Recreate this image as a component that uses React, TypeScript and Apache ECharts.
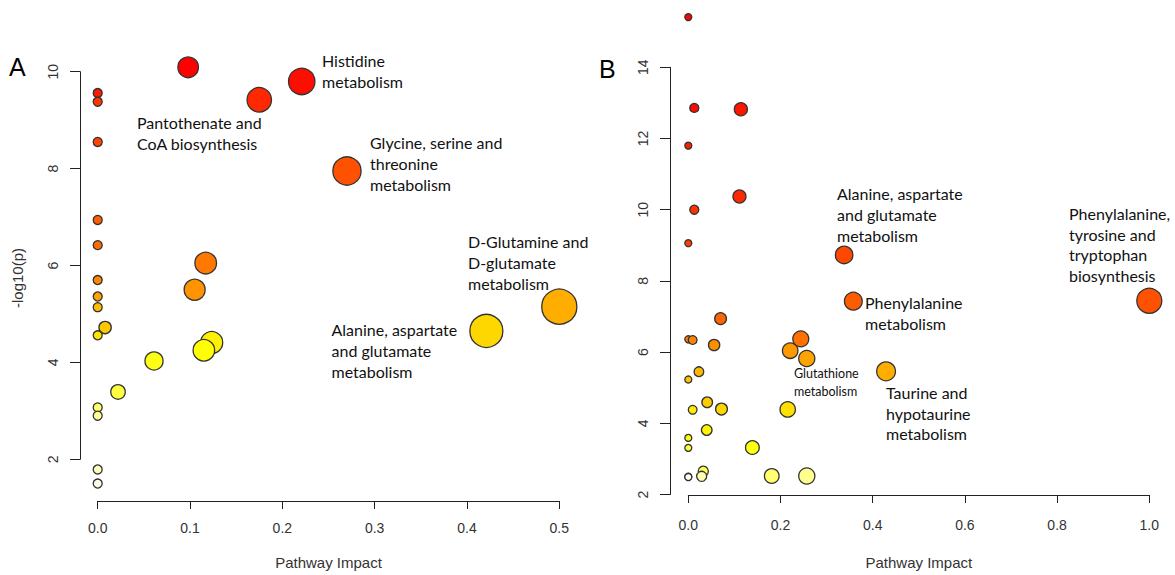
import React, { useEffect, useRef } from "react";
import * as echarts from "echarts";

// Panel A
const aImpact = [0.098, 0.221, 0, 0.175, 0, 0, 0.270, 0, 0, 0.117, 0, 0.105, 0, 0.5, 0, 0.008, 0.421, 0, 0.1235, 0.115, 0.061, 0.022, 0, 0, 0, 0];
const aLogP = [10.09, 9.80, 9.56, 9.42, 9.38, 8.55, 7.95, 6.94, 6.42, 6.05, 5.70, 5.50, 5.36, 5.15, 5.14, 4.72, 4.65, 4.56, 4.41, 4.25, 4.03, 3.39, 3.07, 2.90, 1.79, 1.50];
const aXTicks = [0, 0.1, 0.2, 0.3, 0.4, 0.5];
const aYTicks = [2, 4, 6, 8, 10];

// Panel B
const bImpact = [0, 0.013, 0.114, 0, 0.111, 0.013, 0, 0.338, 1.0, 0.358, 0.070, 0.244, 0, 0.0095, 0.056, 0.221, 0.257, 0.429, 0.023, 0, 0.041, 0.072, 0.2156, 0.0095, 0.040, 0, 0.139, 0, 0.0325, 0.181, 0.257, 0.029, 0, 0];
const bLogP = [15.41, 12.86, 12.82, 11.80, 10.37, 10.00, 9.06, 8.73, 7.44, 7.43, 6.94, 6.37, 6.36, 6.34, 6.20, 6.04, 5.82, 5.46, 5.45, 5.23, 4.59, 4.40, 4.39, 4.38, 3.81, 3.59, 3.32, 3.31, 2.65, 2.52, 2.52, 2.51, 2.50, 2.49];
const bXTicks = [0, 0.2, 0.4, 0.6, 0.8, 1.0];
const bYTicks = [2, 4, 6, 8, 10, 12, 14];

const aLabels = [
  { text: "Histidine\nmetabolism", x: 322, y: 49.5 },
  { text: "Pantothenate and\nCoA biosynthesis", x: 137, y: 112 },
  { text: "Glycine, serine and\nthreonine\nmetabolism", x: 370, y: 132 },
  { text: "D-Glutamine and\nD-glutamate\nmetabolism", x: 468, y: 231 },
  { text: "Alanine, aspartate\nand glutamate\nmetabolism", x: 331.5, y: 319 },
];
const bLabels = [
  { text: "Alanine, aspartate\nand glutamate\nmetabolism", x: 837, y: 183.5 },
  { text: "Phenylalanine\nmetabolism", x: 865, y: 292 },
  { text: "Taurine and\nhypotaurine\nmetabolism", x: 886, y: 382 },
  { text: "Phenylalanine,\ntyrosine and\ntryptophan\nbiosynthesis", x: 1069, y: 203 },
];

// R's heat.colors(n)
function heatColors(n: number): string[] {
  const k = Math.floor(n / 4);
  const j = n - k;
  const hex = (v: number) => Math.round(v * 255).toString(16).padStart(2, "0");
  const out: string[] = [];
  for (let i = 0; i < j; i++) {
    const h = j > 1 ? (i / (j - 1)) * (1 / 6) : 0;
    out.push("#ff" + hex(h * 6) + "00");
  }
  for (let i = 0; i < k; i++) {
    const s = k > 1 ? 1 - 1 / (2 * k) - (i * (1 - 1 / k)) / (k - 1) : 0.5;
    out.push("#ffff" + hex(1 - s));
  }
  return out;
}

function colorsByRank(vals: number[]): string[] {
  const cols = heatColors(vals.length);
  const idx = vals.map((_, i) => i).sort((p, q) => vals[q] - vals[p] || p - q);
  const res: string[] = new Array(vals.length);
  idx.forEach((orig, rank) => (res[orig] = cols[rank]));
  return res;
}

const axisFont = "Liberation Sans, Arial, sans-serif";
const labelFont = "Lato, 'Open Sans', sans-serif";

export default function App() {
  const ref = useRef<HTMLDivElement>(null);
  useEffect(() => {
    if (!ref.current) return;
    const chart = echarts.init(ref.current, undefined, { renderer: "svg" });
    const aCols = colorsByRank(aLogP);
    const bCols = colorsByRank(bLogP);
    const aData = aImpact.map((x, i) => ({ value: [x, aLogP[i]], itemStyle: { color: aCols[i] } }));
    const bData = bImpact.map((x, i) => ({ value: [x, bLogP[i]], itemStyle: { color: bCols[i] } }));

    const lineStyle = { color: "#222", width: 1 };
    const xAxisCommon = (extra: any, margin: number) => ({
      type: "value",
      splitLine: { show: false },
      axisLine: { show: true, onZero: false, lineStyle },
      axisTick: { show: true, length: 8, lineStyle },
      axisLabel: { color: "#333", fontSize: 14, fontFamily: axisFont, margin, formatter: (v: number) => v.toFixed(1) },
      nameLocation: "middle",
      nameTextStyle: { color: "#333", fontSize: 15, fontFamily: axisFont },
      ...extra,
    });
    const yAxisCommon = (extra: any) => ({
      type: "value",
      splitLine: { show: false },
      axisLine: { show: true, onZero: false, lineStyle },
      axisTick: { show: true, length: 10, lineStyle },
      axisLabel: { color: "#333", fontSize: 14, fontFamily: axisFont, rotate: 90, margin: 20, formatter: (v: number) => String(v) },
      ...extra,
    });

    const textStyle = (t: { text: string; x: number; y: number }, size = 16, lh = 21) => ({
      type: "text",
      x: t.x,
      y: t.y,
      style: {
        text: t.text,
        fill: "#111",
        fontSize: size,
        fontFamily: labelFont,
        lineHeight: lh,
        align: "left",
        verticalAlign: "top",
      },
    });

    chart.setOption({
      animation: false,
      backgroundColor: "#fff",
      grid: [
        { left: 97.7, top: 71.7, width: 461.6, height: 392.6, containLabel: false },
        { left: 688.3, top: 67.3, width: 461, height: 428.7, containLabel: false },
      ],
      xAxis: [
        xAxisCommon({ gridIndex: 0, position: "bottom", min: aXTicks[0], max: aXTicks[aXTicks.length - 1], interval: 0.1, offset: 41.7, name: "Pathway Impact", nameGap: 54 }, 20),
        xAxisCommon({ gridIndex: 1, position: "bottom", min: bXTicks[0], max: bXTicks[bXTicks.length - 1], interval: 0.2, offset: 0.5, name: "Pathway Impact", nameGap: 60 }, 23),
      ],
      yAxis: [
        yAxisCommon({ gridIndex: 0, position: "left", min: aYTicks[0], max: aYTicks[aYTicks.length - 1], interval: 2, offset: 17.7 }),
        yAxisCommon({ gridIndex: 1, position: "left", min: bYTicks[0], max: bYTicks[bYTicks.length - 1], interval: 2, offset: 18.3 }),
      ],
      series: [
        {
          type: "scatter",
          xAxisIndex: 0,
          yAxisIndex: 0,
          clip: false,
          symbol: "circle",
          symbolSize: (v: number[]) => 9 + 37 * Math.sqrt(v[0]),
          itemStyle: { borderColor: "#333", borderWidth: 1.3, opacity: 1 },
          data: aData,
        },
        {
          type: "scatter",
          xAxisIndex: 1,
          yAxisIndex: 1,
          clip: false,
          symbol: "circle",
          symbolSize: (v: number[]) => 7 + 18 * Math.sqrt(v[0]),
          itemStyle: { borderColor: "#333", borderWidth: 1.3, opacity: 1 },
          data: bData,
        },
      ],
      graphic: [
        { type: "text", x: 9, y: 54, style: { text: "A", fontSize: 25, fontFamily: axisFont, fill: "#000" } },
        { type: "text", x: 599, y: 56, style: { text: "B", fontSize: 25, fontFamily: axisFont, fill: "#000" } },
        {
          type: "text",
          x: 17,
          y: 278,
          rotation: Math.PI / 2,
          style: { text: "-log10(p)", fontSize: 15, fontFamily: axisFont, fill: "#333", align: "center", verticalAlign: "middle" },
        },
        ...aLabels.map((t) => textStyle(t)),
        ...bLabels.map((t) => textStyle(t, 16, 20.7)),
        textStyle({ text: "Glutathione\nmetabolism", x: 794, y: 364 }, 12.5, 18),
      ],
    });
    return () => chart.dispose();
  }, []);
  return <div ref={ref} style={{ position: "fixed", left: 0, top: 0, width: 1175, height: 575, background: "#fff" }} />;
}
